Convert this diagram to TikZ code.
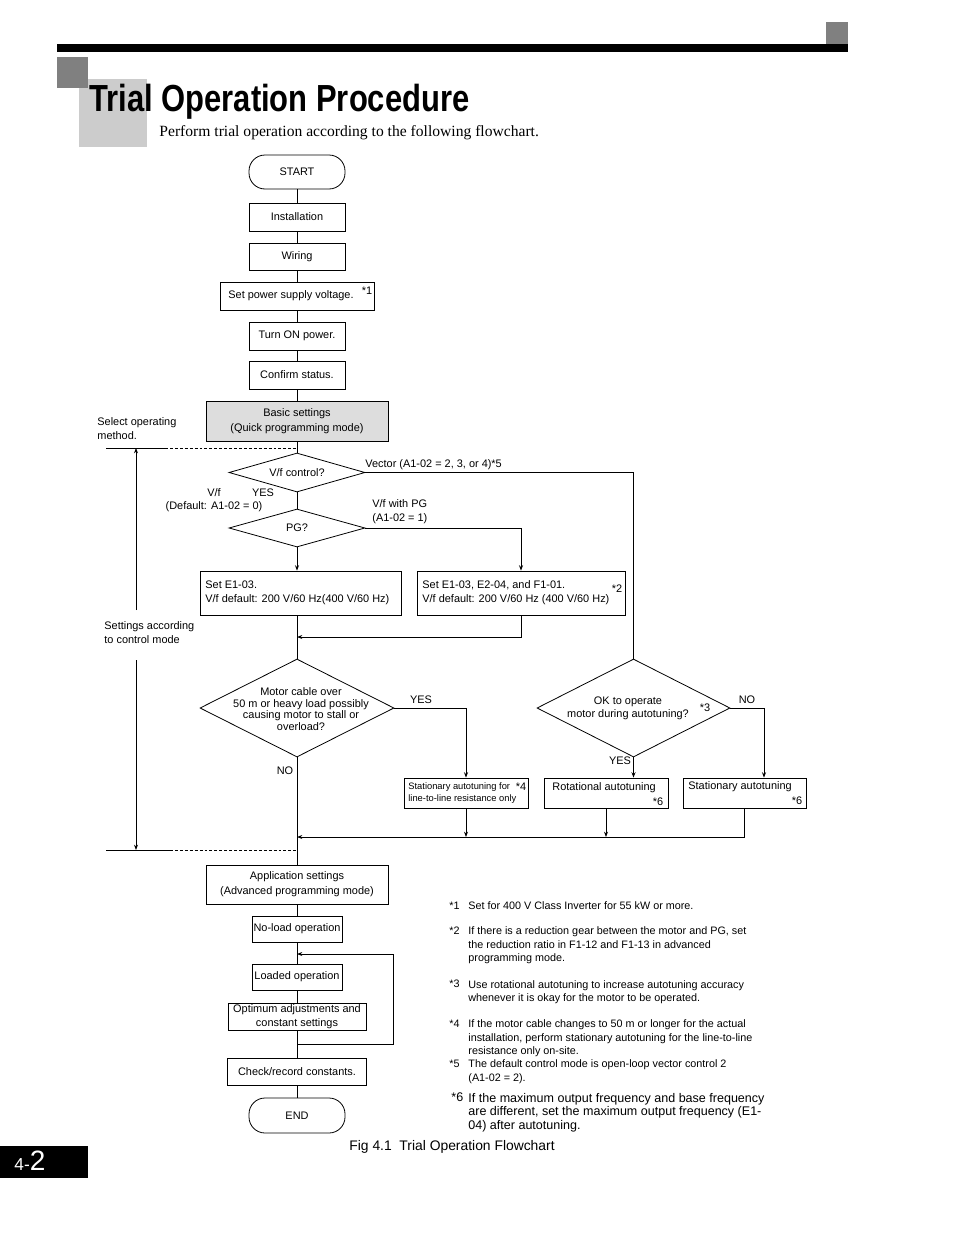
\documentclass[tikz,border=0pt]{standalone}
\usepackage{graphicx}
\usepackage{fontspec}
\setmainfont{Liberation Sans}
\newfontfamily\timesface{Liberation Serif}
\usepackage{tikz}
\usetikzlibrary{positioning,shapes.geometric,arrows.meta}
\definecolor{hdrgray}{HTML}{808080}
\definecolor{tabgray}{HTML}{CCCCCC}
\definecolor{basicgray}{HTML}{DDDDDD}
\newdimen\pxu \pxu=0.75pt
\newcommand\flowfont{\fontsize{8.2}{10.5}\selectfont}
\newcommand\notefont{\fontsize{8.1}{10.1}\selectfont}
\tikzset{x=0.75pt, y=-0.75pt, >={Stealth[length=4pt,width=3pt]},
  box/.style 2 args={draw, minimum width=#1\pxu, minimum height=#2\pxu, inner sep=0pt, align=center, font=\flowfont},
  term/.style 2 args={box={#1}{#2}, rounded corners=16\pxu},
  dia/.style 2 args={draw, diamond, minimum width=#1\pxu, minimum height=#2\pxu, inner sep=0pt},
  lbl/.style={inner sep=0pt, font=\flowfont},
  notemark/.style={inner sep=0pt, anchor=north west, font=\notefont},
  notetext/.style={inner sep=0pt, anchor=west, align=left, font=\notefont}}

\begin{document}
\begin{tikzpicture}[line width=0.6pt]
  \useasboundingbox (0,0) rectangle (954,1235);
  % page header
  \fill[tabgray] (79,79) rectangle (147,147);
  \fill[hdrgray] (57,57) rectangle (88,88);
  \fill[hdrgray] (826,22) rectangle (848,44);
  \fill[black] (57,44) rectangle (848,52);
  \node[inner sep=0pt, anchor=base west] (title) at (89,111)
    {\fontsize{28.3}{30}\selectfont\bfseries\scalebox{0.82}[1]{Trial Operation Procedure}};
  \node[inner sep=0pt, anchor=base west] (intro) at (159,136)
    {\timesface\fontsize{11.7}{13}\selectfont Perform trial operation according to the following flowchart.};

  % main column
  \node[term={96}{34}] (start) at (297,172) {START};
  \node[box={96}{28}] (inst) at (297,217) {Installation};
  \node[box={96}{27}] (wire) at (297,256.5) {Wiring};
  \node[box={154}{28}] (volt) at (297,296) {};
  \node[lbl] (voltT) at (291,296) {Set power supply voltage.};
  \node[lbl] (voltN) at (367,291) {*1};
  \node[box={96}{28}] (pon) at (297,336) {Turn ON power.};
  \node[box={96}{28}] (conf) at (297,375) {Confirm status.};
  \node[box={182}{40}, fill=basicgray] (basic) at (297,421) {Basic settings\\[0.6pt](Quick programming mode)};

  \node[dia={136}{39}] (vfq) at (297,472.5) {};
  \node[lbl] (vfqT) at (vfq) {V/f control?};
  \node[dia={136}{38}] (pgq) at (297,528) {};
  \node[lbl] (pgqT) at (pgq) {PG?};

  \node[box={201}{44}] (set1) at (300.5,593) {};
  \node[lbl, anchor=west, align=left] (set1T) at (205,593) {Set E1-03.\\V/f default: 200 V/60 Hz(400 V/60 Hz)};
  \node[box={208}{44}] (set2) at (521,593) {};
  \node[lbl, anchor=west, align=left] (set2T) at (422,593) {Set E1-03, E2-04, and F1-01.\\V/f default: 200 V/60 Hz (400 V/60 Hz)};
  \node[lbl] (set2N) at (617,589) {*2};

  \node[dia={194}{98}] (cable) at (297,708) {};
  \node[lbl, align=center, font=\fontsize{8.2}{8.7}\selectfont] (cableT) at (301,709)
    {Motor cable over\\50 m or heavy load possibly\\causing motor to stall or\\overload?};
  \node[dia={193}{98}] (okq) at (633.5,708) {};
  \node[lbl, align=center, font=\fontsize{8.2}{9.8}\selectfont] (okqT) at (628,708)
    {OK to operate\\motor during autotuning?};
  \node[lbl] (okqN) at (705,708) {*3};

  \node[box={124}{30}] (sline) at (466,793) {};
  \node[lbl, anchor=west, align=left, font=\fontsize{7}{9}\selectfont] (slineT) at (408,793)
    {Stationary autotuning for\\line-to-line resistance only};
  \node[lbl] (slineN) at (521,787) {*4};
  \node[box={124}{30}] (rot) at (606,793) {};
  \node[lbl, anchor=west] (rotT) at (552,788) {Rotational autotuning};
  \node[lbl] (rotN) at (658,802) {*6};
  \node[box={123}{30}] (stat) at (744.5,793) {};
  \node[lbl, anchor=west] (statT) at (688,787) {Stationary autotuning};
  \node[lbl] (statN) at (797,801) {*6};

  \node[box={182}{39}] (appl) at (297,884.5) {Application settings\\[0.6pt](Advanced programming mode)};
  \node[box={90}{26}] (noload) at (297,929) {No-load operation};
  \node[box={90}{26}] (loaded) at (297,977) {Loaded operation};
  \node[box={138}{27}] (optim) at (297,1016.5) {Optimum adjustments and\\constant settings};
  \node[box={139}{27}] (check) at (297,1071.5) {Check/record constants.};
  \node[term={96}{35}] (stop) at (297,1115.5) {END};

  % branch labels
  \node[lbl, anchor=west] (vecL) at (365,465) {Vector (A1-02 = 2, 3, or 4)*5};
  \node[lbl] (vfL) at (214,493) {V/f};
  \node[lbl] (yes1) at (263,493) {YES};
  \node[lbl] (defL) at (214,507) {(Default: A1-02 = 0)};
  \node[lbl, anchor=west, align=left] (pgL) at (372,512) {V/f with PG\\(A1-02 = 1)};
  \node[lbl] (yes2) at (421,700) {YES};
  \node[lbl] (no1) at (285,771) {NO};
  \node[lbl] (no2) at (747,700) {NO};
  \node[lbl] (yes3) at (620,761) {YES};

  % left side brackets
  \node[lbl, anchor=west, align=left] (selL) at (97,428.5) {Select operating\\method.};
  \node[lbl, anchor=west, align=left] (ctlL) at (104,632.5) {Settings according\\to control mode};
  \coordinate (selA) at (106,448);
  \coordinate (selB) at (165,448);
  \coordinate (ctlA) at (106,850);
  \coordinate (ctlB) at (170,850);
  \draw (selA) -- (selB);
  \draw[dash pattern=on 2.2pt off 1.5pt] (selB) -- (selB -| vfq);
  \draw (ctlA) -- (ctlB);
  \draw[dash pattern=on 2.2pt off 1.5pt] (ctlB) -- (ctlB -| appl);
  \draw[->] (136,610) -- (136,448);
  \draw[->] (136,660) -- (136,850);

  % connectors
  \draw (start) -- (inst);
  \draw (inst) -- (wire);
  \draw (wire) -- (volt);
  \draw (volt) -- (pon);
  \draw (pon) -- (conf);
  \draw (conf) -- (basic);
  \draw (basic) -- (vfq);
  \draw (vfq) -- (pgq);
  \draw[->] (pgq.south) -- (pgq.south |- set1.north);
  \draw[->] (pgq.east) -| (set2.north);
  \draw (vfq.east) -| (okq.north);
  \coordinate (jA) at (297,637);
  \coordinate (jB) at (297,837);
  \draw (cable.north |- set1.south) -- (cable.north);
  \draw[->] (set2.south) |- (jA);
  \draw[->] (cable.east) -| (sline.north);
  \draw[->] (okq.south) -- (okq.south |- rot.north);
  \draw[->] (okq.east) -| ([xshift=19.5\pxu]stat.north);
  \draw[->] (sline.south) -- (sline.south |- jB);
  \draw[->] (rot.south) -- (rot.south |- jB);
  \draw[->] (stat.south) |- (jB);
  \draw (cable.south) -- (appl.north);
  \draw (appl) -- (noload);
  \draw (noload) -- (loaded);
  \draw (loaded) -- (optim);
  \draw (optim) -- (check);
  \draw (check) -- (stop);
  \coordinate (loopA) at (297,1044);
  \coordinate (loopB) at (297,954);
  \draw[->] (loopA) -- (393,1044) |- (loopB);

  % notes
  \node[notetext] (t1) at (468,906) {Set for 400 V Class Inverter for 55 kW or more.};
  \node[notemark] (m1) at ([xshift=-19\pxu]t1.north west) {*1};
  \node[notetext] (t2) at (468,945.5) {If there is a reduction gear between the motor and PG, set\\the reduction ratio in F1-12 and F1-13 in advanced\\programming mode.};
  \node[notemark] (m2) at ([xshift=-19\pxu]t2.north west) {*2};
  \node[notetext] (t3) at (468,992) {Use rotational autotuning to increase autotuning accuracy\\whenever it is okay for the motor to be operated.};
  \node[notemark] (m3) at ([xshift=-19\pxu]t3.north west) {*3};
  \node[notetext] (t4) at (468,1038.5) {If the motor cable changes to 50 m or longer for the actual\\installation, perform stationary autotuning for the line-to-line\\resistance only on-site.};
  \node[notemark] (m4) at ([xshift=-19\pxu]t4.north west) {*4};
  \node[notetext] (t5) at (468,1071.5) {The default control mode is open-loop vector control 2\\(A1-02 = 2).};
  \node[notemark] (m5) at ([xshift=-19\pxu]t5.north west) {*5};
  \node[notetext, font=\fontsize{9.4}{10.1}\selectfont] (t6) at (468,1112.5) {If the maximum output frequency and base frequency\\are different, set the maximum output frequency (E1-\\04) after autotuning.};
  \node[notemark, font=\fontsize{9.4}{10.1}\selectfont] (m6) at ([xshift=-17\pxu]t6.north west) {*6};

  % caption and page number
  \node[inner sep=0pt, anchor=base west] (caption) at (349,1150) {\fontsize{10.4}{12}\selectfont Fig 4.1\ \ Trial Operation Flowchart};
  \fill[black] (0,1146) rectangle (88,1178);
  \node[inner sep=0pt, anchor=base west, text=white] (pageno) at (14,1170)
    {\fontsize{13}{13}\selectfont 4-\fontsize{21}{21}\selectfont 2};
\end{tikzpicture}
\end{document}
